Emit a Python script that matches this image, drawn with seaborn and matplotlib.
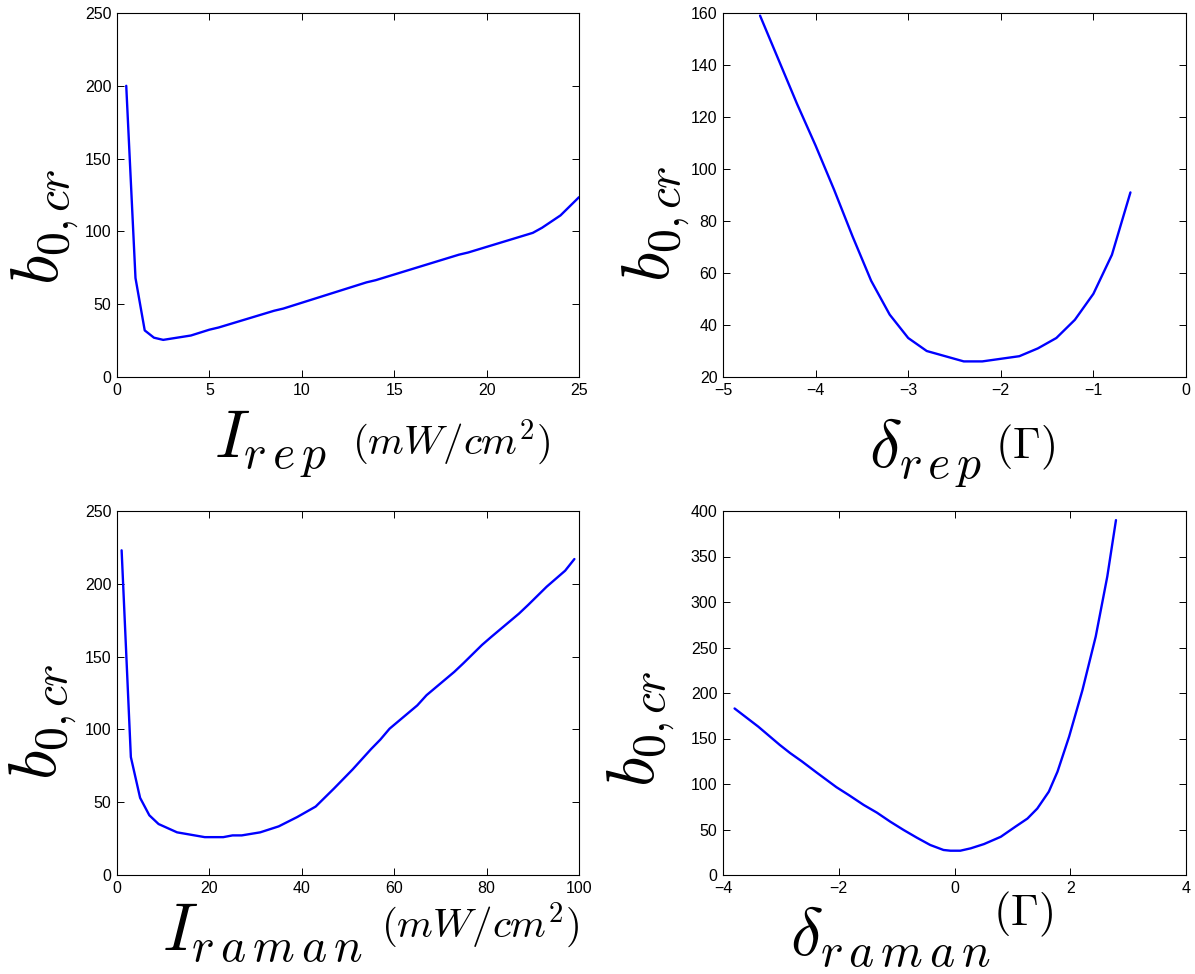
import numpy as np
import pandas as pd
import matplotlib
matplotlib.use("Agg")
import matplotlib.pyplot as plt
import seaborn as sns

# ---- data ----
i_rep = [0.5, 1, 1.5, 2, 2.5, 4, 5, 5.5, 8.5, 9, 13.5, 14, 18.5, 19, 22.5, 23, 24, 25]
b_i_rep = [200, 68, 32, 27, 25.5, 28.5, 32.5, 34, 45.5, 47, 65, 66.5, 84, 85.5, 99, 102.5, 111, 123.5]

d_rep = [-4.6, -4.4, -4.2, -4.0, -3.8, -3.6, -3.4, -3.2, -3.0, -2.8, -2.6, -2.4, -2.2,
         -2.0, -1.8, -1.6, -1.4, -1.2, -1.0, -0.8, -0.6]
b_d_rep = [159, 142, 125, 109, 92, 74, 57, 44, 35, 30, 28, 26, 26,
           27, 28, 31, 35, 42, 52, 67, 91]

i_raman = [1, 3, 5, 7, 9, 13, 19, 23, 25, 27, 31, 35, 39, 43, 47, 49, 51, 55, 57, 59,
           65, 67, 73, 75, 79, 81, 87, 89, 93, 97, 99]
b_i_raman = [223, 81, 53, 41, 35, 29.3, 26, 26, 27.2, 27.2, 29.3, 33.4, 39.8, 47, 59.5, 66,
             72.5, 86.5, 93, 100.5, 116.5, 123.5, 139.5, 145.5, 158, 163.5, 179.5, 185.5,
             198, 209, 217]

d_raman = [-3.8, -3.39, -3.02, -2.84, -2.64, -2.38, -2.04, -1.83, -1.57, -1.34, -1.11, -0.88,
           -0.65, -0.42, -0.19, -0.07, 0.10, 0.28, 0.51, 0.80, 1.05, 1.26, 1.43, 1.63, 1.78,
           1.98, 2.21, 2.44, 2.64, 2.79]
b_d_raman = [183, 163, 143, 134, 125, 112.5, 96.5, 88, 77, 68.5, 58.6, 49.5, 41, 33, 27.5,
             26.7, 26.7, 29.3, 34, 42, 53, 62, 73, 91.6, 113.6, 152, 203, 262, 328, 390]

# axis settings
xlims = [(0, 25), (-5, 0), (0, 100), (-4, 4)]
ylims = [(0, 250), (20, 160), (0, 250), (0, 400)]
xticks = [[0, 5, 10, 15, 20, 25], [-5, -4, -3, -2, -1, 0], [0, 20, 40, 60, 80, 100], [-4, -2, 0, 2, 4]]
yticks = [[0, 50, 100, 150, 200, 250], [20, 40, 60, 80, 100, 120, 140, 160],
          [0, 50, 100, 150, 200, 250], [0, 50, 100, 150, 200, 250, 300, 350, 400]]

main_labels = [r"$I_{r\,e\,p}$", r"$\delta_{r\,e\,p}$",
               r"$I_{r\,a\,m\,a\,n}$", r"$\delta_{r\,a\,m\,a\,n}$"]
unit_labels = [r"$(mW/cm^2)$", r"$(\Gamma)$", r"$(mW/cm^2)$", r"$(\Gamma)$"]
ylabel = r"$b_{0{,}\,cr}$"

sns.set_style("ticks")
plt.rcParams["font.family"] = ["Liberation Sans", "DejaVu Sans"]
plt.rcParams["mathtext.fontset"] = "cm"
plt.rcParams["text.color"] = "black"

W, H = 1195, 974
fig = plt.figure(figsize=(W / 100, H / 100), dpi=100)

# axes boxes in pixels (left, top, right, bottom)
boxes = [(117, 13, 579, 377), (723, 13, 1186, 377), (117, 511, 579, 875), (723, 511, 1186, 875)]

series = [(i_rep, b_i_rep), (d_rep, b_d_rep), (i_raman, b_i_raman), (d_raman, b_d_raman)]

for k, ((l, t, r, b), (xs, ys)) in enumerate(zip(boxes, series)):
    ax = fig.add_axes([l / W, 1 - b / H, (r - l) / W, (b - t) / H])
    df = pd.DataFrame({"x": xs, "y": ys})
    sns.lineplot(data=df, x="x", y="y", ax=ax, color="#0000ff", linewidth=1.7,
                 sort=False, estimator=None)
    ax.set_xlim(*xlims[k])
    ax.set_ylim(*ylims[k])
    ax.set_xticks(xticks[k])
    ax.set_yticks(yticks[k])
    ax.set_xlabel("")
    ax.set_ylabel("")
    ax.tick_params(direction="in", length=5, width=0.7, top=True, right=True,
                   labelsize=11.5, colors="black", labelcolor="black", pad=4)
    for sp in ax.spines.values():
        sp.set_visible(True)
        sp.set_linewidth(0.8)
        sp.set_color("black")

def fx(px):
    return px / W

def fy(py):
    return 1 - py / H

# x labels: (main left, main baseline, main size, unit left, unit baseline, unit size)
xlab_pos = [
    (214, 457, 49, 352, 455, 29.5),
    (869, 467, 49, 995, 458, 32),
    (162, 950, 49, 381, 938, 29.5),
    (790, 955, 49, 993, 925, 32),
]
for k, (mx, my, ms, ux, uy, us) in enumerate(xlab_pos):
    fig.text(fx(mx), fy(my), main_labels[k], fontsize=ms, ha="left", va="baseline", color="black")
    fig.text(fx(ux), fy(uy), unit_labels[k], fontsize=us, ha="left", va="baseline", color="black")

# y labels: (left px, bottom px)
ylab_pos = [(10, 285), (621, 282), (8, 780), (606, 787)]
for (lx, by) in ylab_pos:
    fig.text(fx(lx), fy(by), ylabel, fontsize=49, rotation=90, ha="left", va="bottom", color="black")

fig.savefig("out.png", dpi=100, facecolor="white")
